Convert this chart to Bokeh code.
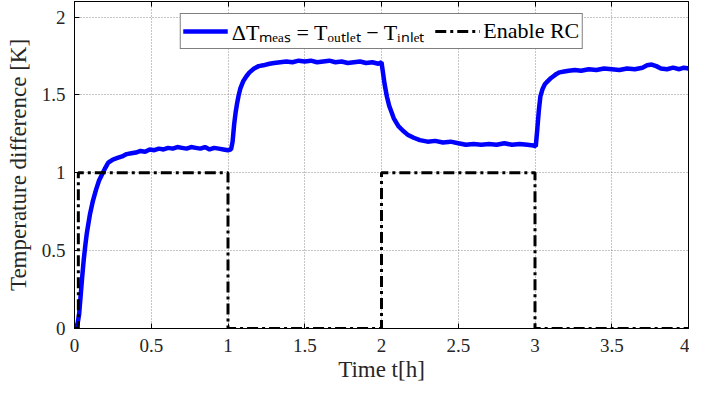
from bokeh.plotting import figure
from bokeh.models import Range1d, LinearAxis, FixedTicker, Legend, LegendItem, CustomJSTickFormatter
from bokeh.embed import file_html
from bokeh.resources import INLINE

# ---- data ----
t_meas = [0.00, 0.01, 0.02, 0.03, 0.04, 0.05, 0.06, 0.07, 0.08, 0.09, 0.10, 0.12, 0.14, 0.16,
          0.18, 0.20, 0.22, 0.25, 0.28, 0.31, 0.34, 0.37, 0.40, 0.43, 0.46, 0.49, 0.52, 0.55,
          0.58, 0.61, 0.64, 0.67, 0.70, 0.73, 0.76, 0.79, 0.82, 0.85, 0.88, 0.91, 0.94, 0.97,
          1.00, 1.02,
          1.03, 1.04, 1.05, 1.06, 1.07, 1.08, 1.10, 1.12, 1.14, 1.17, 1.20, 1.23, 1.27, 1.30,
          1.34, 1.38, 1.42, 1.46, 1.50, 1.54, 1.58, 1.62, 1.66, 1.70, 1.74, 1.78, 1.82, 1.86,
          1.90, 1.94, 1.98, 2.00,
          2.01, 2.02, 2.035, 2.05, 2.065, 2.08, 2.11, 2.14, 2.17, 2.21, 2.25, 2.30, 2.35, 2.40,
          2.45, 2.50, 2.55, 2.60, 2.65, 2.70, 2.75, 2.80, 2.85, 2.90, 2.95, 2.99, 3.005,
          3.015, 3.025, 3.035, 3.05, 3.065, 3.08, 3.10, 3.12, 3.14, 3.16, 3.19, 3.22, 3.26,
          3.30, 3.35, 3.40, 3.45, 3.50, 3.55, 3.60, 3.65, 3.70, 3.73, 3.76, 3.79, 3.82, 3.86,
          3.90, 3.94, 3.97, 4.00]
dT_meas = [0.02, 0.015, 0.03, 0.09, 0.21, 0.33, 0.44, 0.53, 0.61, 0.67, 0.73, 0.82, 0.89, 0.95,
           0.99, 1.03, 1.065, 1.085, 1.095, 1.105, 1.12, 1.125, 1.13, 1.14, 1.135, 1.15, 1.145, 1.155,
           1.15, 1.16, 1.155, 1.165, 1.16, 1.155, 1.165, 1.16, 1.155, 1.165, 1.15, 1.16, 1.155, 1.15,
           1.145, 1.15,
           1.20, 1.31, 1.39, 1.45, 1.50, 1.54, 1.59, 1.62, 1.645, 1.67, 1.685, 1.69, 1.70, 1.705,
           1.71, 1.715, 1.71, 1.72, 1.715, 1.72, 1.71, 1.715, 1.72, 1.71, 1.715, 1.705, 1.71, 1.715,
           1.705, 1.71, 1.70, 1.71,
           1.64, 1.57, 1.49, 1.43, 1.39, 1.35, 1.30, 1.27, 1.245, 1.225, 1.21, 1.20, 1.205, 1.195,
           1.20, 1.19, 1.18, 1.185, 1.18, 1.185, 1.18, 1.19, 1.18, 1.185, 1.18, 1.175, 1.17,
           1.28, 1.40, 1.49, 1.54, 1.57, 1.585, 1.605, 1.62, 1.635, 1.645, 1.65, 1.655, 1.66,
           1.655, 1.665, 1.66, 1.67, 1.665, 1.66, 1.67, 1.665, 1.675, 1.69, 1.695, 1.685, 1.67, 1.665,
           1.675, 1.665, 1.675, 1.67]

t_rc = [0.0, 0.025, 1.0, 2.0, 3.0, 4.0]
enable_rc = [0, 1, 0, 1, 0, 0]

x_ticks = [0, 0.5, 1, 1.5, 2, 2.5, 3, 3.5, 4]
y_ticks = [0, 0.5, 1, 1.5, 2]

label_meas = "\u0394T\u2098\u2091\u2090\u209b = T\u2092\u1d64\u209c\u2097\u2091\u209c \u2212 T\u1d62\u2099\u2097\u2091\u209c"
label_rc = "Enable RC"

FONT = "Liberation Serif"
TXT = "#262626"

p = figure(width=689, height=384, output_backend="svg", toolbar_location=None,
           x_range=Range1d(0, 4), y_range=Range1d(0, 2.1),
           min_border_left=74, min_border_right=1, min_border_top=1, min_border_bottom=10,
           background_fill_color="white", border_fill_color="white")
p.outline_line_color = "black"
p.outline_line_width = 1

fmt = CustomJSTickFormatter(code="return tick.toString();")
for ax, tk in ((p.xaxis[0], x_ticks), (p.yaxis[0], y_ticks)):
    ax.ticker = FixedTicker(ticks=tk)
    ax.formatter = fmt
    ax.major_tick_in = 5
    ax.major_tick_out = 0
    ax.minor_tick_line_color = None
    ax.axis_line_color = "black"
    ax.major_tick_line_color = "black"
    ax.major_label_text_font = FONT
    ax.major_label_text_font_size = "19px"
    ax.major_label_text_color = TXT
    ax.axis_label_text_font = FONT
    ax.axis_label_text_font_size = "23px"
    ax.axis_label_text_font_style = "normal"
    ax.axis_label_text_color = TXT

p.xaxis.axis_label = "Time t[h]"
p.yaxis.axis_label = "Temperature difference [K]"
p.xaxis.major_label_standoff = 10
p.xaxis.axis_label_standoff = 2
p.yaxis.major_label_standoff = 9
p.yaxis.axis_label_standoff = 8

top_ax = LinearAxis(ticker=FixedTicker(ticks=x_ticks),
                    formatter=CustomJSTickFormatter(code="return '';"),
                    major_tick_in=5, major_tick_out=0, minor_tick_line_color=None,
                    major_label_standoff=0, axis_line_color="black",
                    major_label_text_font_size="1px")
p.add_layout(top_ax, "above")

p.xgrid.ticker = FixedTicker(ticks=x_ticks)
p.ygrid.ticker = FixedTicker(ticks=y_ticks)
for g in (p.xgrid[0], p.ygrid[0]):
    g.grid_line_color = "#8c8c8c"
    g.grid_line_dash = "1 2"
    g.grid_line_width = 1

r_meas = p.line(t_meas, dT_meas, line_color="#0000ff", line_width=4.5)
r_rc = p.step(t_rc, enable_rc, mode="after", line_color="black", line_width=3,
              line_dash="11 4 3 4")

legend = Legend(items=[LegendItem(label=label_meas, renderers=[r_meas]),
                       LegendItem(label=label_rc, renderers=[r_rc])],
                orientation="horizontal", location="top_center",
                border_line_color="black", border_line_width=1,
                background_fill_color="white", background_fill_alpha=1,
                label_text_font=FONT, label_text_font_size="22px", label_text_color="black",
                glyph_width=45, label_standoff=4, spacing=10, padding=2, margin=12)
p.add_layout(legend, "center")

open("out.html", "w").write(file_html(p, INLINE))
